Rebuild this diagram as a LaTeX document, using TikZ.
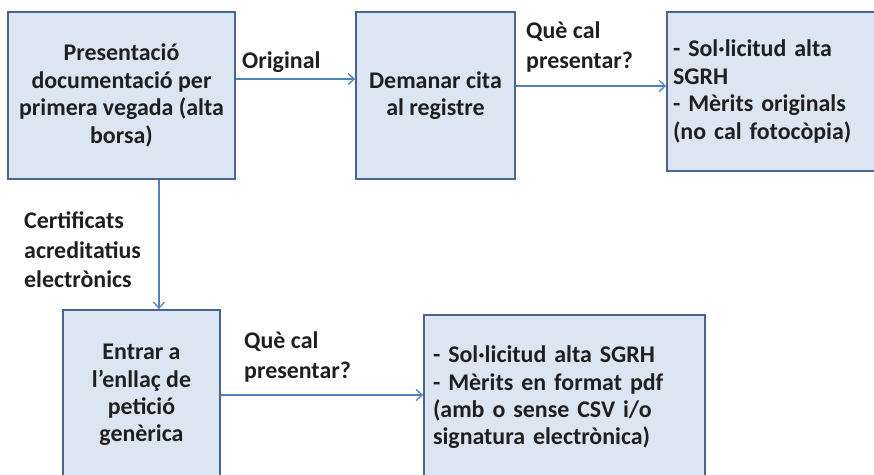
\documentclass[tikz,border=0pt]{standalone}
\usepackage{fontspec}
\setmainfont{Carlito}
\usetikzlibrary{arrows.meta,calc}
\definecolor{boxfill}{HTML}{DCE6F2}
\definecolor{boxline}{HTML}{4A6690}
\definecolor{arrowc}{HTML}{4F81BD}
\definecolor{txt}{HTML}{1F1F1F}
\begin{document}
\begin{tikzpicture}[x=1bp,y=-1bp,
  box/.style={draw=boxline, line width=1.8bp, fill=boxfill, rectangle, inner sep=0pt,
    text=txt, font=\fontsize{24}{27.5}\selectfont\bfseries},
  conn/.style={draw=arrowc, line width=1.5bp, -{Straight Barb[length=6bp,width=11bp,line width=1.3bp]}},
  lbl/.style={text=txt, align=left, inner sep=0pt, anchor=west,
    font=\fontsize{24}{29.5}\selectfont\bfseries}]
\useasboundingbox (0,0) rectangle (874,475);
\fill[white] (0,0) rectangle (874,475);
\clip (0,0) rectangle (874,475);
\node[box, minimum width=227bp, minimum height=167bp, align=center] (b1) at (121.5,95.5)
  {Presentació\\documentació per\\primera vegada (alta\\borsa)};
\node[box, minimum width=159bp, minimum height=167bp, align=center] (b2) at (435.5,95.5)
  {Demanar cita\\al registre};
\node[box, minimum width=228bp, minimum height=159bp, text width=216bp, align=left] (b3) at (781,91.5)
  {- Sol·licitud alta\\SGRH\\- Mèrits originals\\(no cal fotocòpia)};
\node[box, minimum width=157bp, minimum height=170bp, align=center] (b4) at (141.5,395)
  {Entrar a\\l’enllaç de\\petició\\genèrica};
\node[box, minimum width=281bp, minimum height=165bp, text width=263bp, align=left] (b5) at (564.5,397.5)
  {- Sol·licitud alta SGRH\\- Mèrits en format pdf\\(amb o sense CSV i/o\\signatura electrònica)};
\draw[conn] ([yshift=16.5bp]b1.east) -- ([yshift=16.5bp]b1.east -| b2.west);
\draw[conn] ([yshift=9.5bp]b2.east) -- ([yshift=9.5bp]b2.east -| b3.west);
\draw[conn] ([xshift=37.5bp]b1.south) -- ([xshift=37.5bp]b1.south |- b4.north);
\draw[conn] (b4.east) -- (b4.east -| b5.west);
\node[lbl] (l1) at (242,62) {Original};
\node[lbl] (l2) at (526,47) {Què cal\\presentar?};
\node[lbl] (l3) at (24,250) {Certificats\\acreditatius\\electrònics};
\node[lbl] (l4) at (244,357) {Què cal\\presentar?};
\end{tikzpicture}
\end{document}
